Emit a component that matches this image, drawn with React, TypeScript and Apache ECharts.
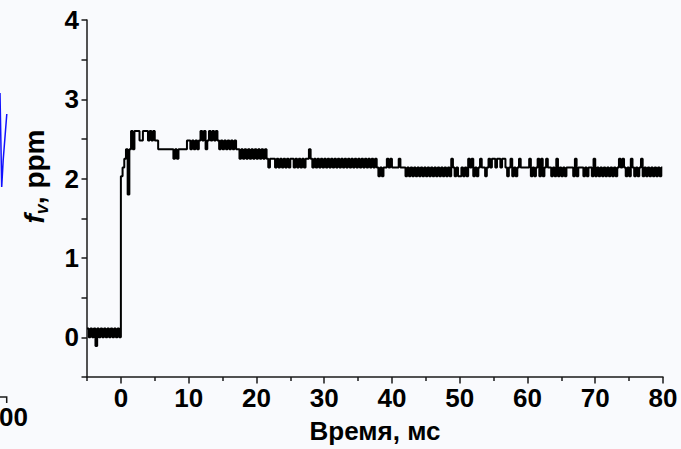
import React, { useEffect, useRef } from "react";
import * as echarts from "echarts";

// Digitiser levels (ppm) used by the recorded soot volume fraction trace
const LEVEL_PPM: Record<string, number> = {
  n: -0.11,
  z: 0,
  p: 0.11,
  "1": 1.8,
  "2": 2.03,
  "3": 2.14,
  "4": 2.25,
  "5": 2.37,
  "6": 2.48,
  "7": 2.6,
};

const SAMPLE_STEP_MS = 0.25;

// Recorded trace: one level code per 0.25 ms sample, grouped by start time (ms)
const TRACE_BEFORE_IGNITION = { start: -5, codes: "pzpzpnpzpzpzpzpzpzpz" };
const TRACE_0_10 = { start: 0, codes: "2345157577" + "7667776767" + "6655555555" + "5454555556" };
const TRACE_10_20 = { start: 10, codes: "6565656767" + "5676767656" + "5656565655" + "4545454545" };
const TRACE_20_30 = { start: 20, codes: "4545454344" + "4343434343" + "4434343434" + "4543434343" };
const TRACE_30_40 = { start: 30, codes: "43434343434343434343434343434343" + "23233434" };
const TRACE_40_50 = { start: 40, codes: "3333433323" + "2323232323" + "2323232323" + "2323243232" };
const TRACE_50_60 = { start: 50, codes: "2323243423" + "2343323434" + "4344344323" + "4232343333" };
const TRACE_60_70 = { start: 60, codes: "3423234242" + "3433232423" + "2323333242" + "3332323324" };
const TRACE_70_80 = { start: 70, codes: "2323232323" + "2323434323" + "2432323423" + "2323232323" };
const TRACE_END: [number, number] = [79.9, 2.14];

const TRACE_SEGMENTS = [
  TRACE_BEFORE_IGNITION,
  TRACE_0_10,
  TRACE_10_20,
  TRACE_20_30,
  TRACE_30_40,
  TRACE_40_50,
  TRACE_50_60,
  TRACE_60_70,
  TRACE_70_80,
];

const X_MIN = -5;
const X_MAX = 80;
const X_MAJOR_TICKS = [0, 10, 20, 30, 40, 50, 60, 70, 80];
const X_MINOR_TICKS = [-5, 5, 15, 25, 35, 45, 55, 65, 75];

const Y_MIN = -0.5;
const Y_MAX = 4;
const Y_LABELS = [0, 1, 2, 3, 4];

const X_TITLE = "Время, мс";

const FONT = "'Liberation Sans', Arial, Helvetica, sans-serif";

function buildTrace(): [number, number][] {
  const pts: [number, number][] = [];
  for (const seg of TRACE_SEGMENTS) {
    for (let i = 0; i < seg.codes.length; i++) {
      pts.push([seg.start + i * SAMPLE_STEP_MS, LEVEL_PPM[seg.codes[i]]]);
    }
  }
  pts.push(TRACE_END);
  return pts;
}

export default function App() {
  const ref = useRef<HTMLDivElement>(null);

  useEffect(() => {
    document.body.style.margin = "0";
    if (!ref.current) return;
    const chart = echarts.init(ref.current, undefined, { renderer: "svg" });

    const labelStyle = {
      color: "#000",
      fontSize: 26,
      fontWeight: "bold" as const,
      fontFamily: FONT,
    };
    const titleStyle = { ...labelStyle, fontSize: 28 };
    const axisColor = "#1a1a1a";

    chart.setOption({
      animation: false,
      backgroundColor: "#f9fafd",
      grid: { left: 87, right: 18, top: 20, bottom: 71 },
      xAxis: [
        {
          type: "value",
          min: X_MIN,
          max: X_MAX,
          interval: 5,
          splitLine: { show: false },
          axisLine: { onZero: false, lineStyle: { color: axisColor, width: 1.5 } },
          axisTick: {
            length: 6.5,
            customValues: X_MAJOR_TICKS,
            lineStyle: { color: axisColor, width: 1.5 },
          },
          axisLabel: {
            ...labelStyle,
            margin: 8,
            customValues: X_MAJOR_TICKS,
          },
          name: X_TITLE,
          nameLocation: "middle",
          nameGap: 41,
          nameTextStyle: { ...labelStyle },
        },
        {
          type: "value",
          position: "bottom",
          min: X_MIN,
          max: X_MAX,
          interval: 5,
          splitLine: { show: false },
          axisLine: { show: false, onZero: false },
          axisTick: {
            length: 4,
            customValues: X_MINOR_TICKS,
            lineStyle: { color: axisColor, width: 1.5 },
          },
          axisLabel: { show: false },
        },
      ],
      yAxis: {
        type: "value",
        min: Y_MIN,
        max: Y_MAX,
        interval: 0.5,
        splitLine: { show: false },
        axisLine: { onZero: false, lineStyle: { color: axisColor, width: 1.5 } },
        axisTick: { length: 5.5, lineStyle: { color: axisColor, width: 1.5 } },
        axisLabel: {
          ...labelStyle,
          margin: 8,
          customValues: Y_LABELS,
        },
        name: "{f|f}{v|v}{t|, ppm}",
        nameLocation: "middle",
        nameRotate: 90,
        nameGap: 36,
        nameTextStyle: {
          padding: [0, 0, 0, 44],
          rich: {
            f: { ...titleStyle, fontStyle: "italic", lineHeight: 34, verticalAlign: "middle" },
            v: {
              ...titleStyle,
              fontSize: 18,
              fontStyle: "italic",
              lineHeight: 18,
              verticalAlign: "bottom",
            },
            t: { ...titleStyle, lineHeight: 34, verticalAlign: "middle" },
          },
        },
      },
      graphic: [
        // edge of the neighbouring panel
        {
          type: "polyline",
          shape: { points: [[0, 93], [1.7, 187], [3.2, 160], [6.8, 114]] },
          style: { stroke: "#1010ff", lineWidth: 1.5, fill: "none" },
        },
        {
          type: "polyline",
          shape: { points: [[0, 397], [6.7, 397], [6.7, 403]] },
          style: { stroke: axisColor, lineWidth: 1.5, fill: "none" },
        },
        {
          type: "text",
          x: -1,
          y: 404,
          style: { text: "00", fill: "#000", font: `bold 26px ${FONT}` },
        },
      ],
      series: [
        {
          type: "line",
          step: "end",
          data: buildTrace(),
          showSymbol: false,
          lineStyle: { color: "#000", width: 2 },
        },
      ],
    });

    return () => chart.dispose();
  }, []);

  return (
    <div
      ref={ref}
      style={{ position: "absolute", left: 0, top: 0, width: 681, height: 449 }}
    />
  );
}
